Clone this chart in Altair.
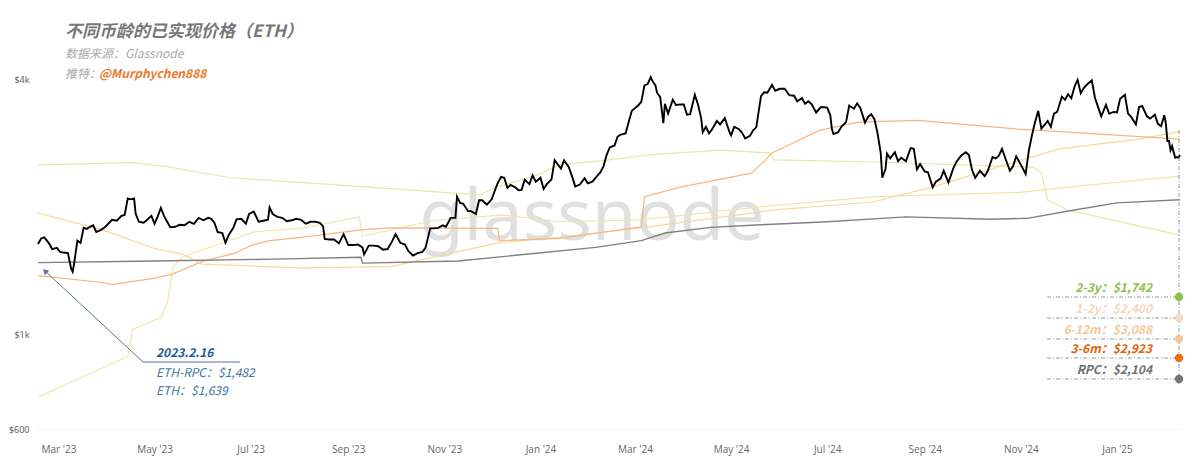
import pandas as pd
import altair as alt

# ETH price (USD)
eth_dates = [
    "2023-02-16", "2023-02-18", "2023-02-20", "2023-02-23", "2023-02-25", "2023-02-28",
    "2023-03-02", "2023-03-04", "2023-03-07", "2023-03-09", "2023-03-10", "2023-03-11", "2023-03-13", "2023-03-15", "2023-03-17", "2023-03-19", "2023-03-21", "2023-03-23", "2023-03-25", "2023-03-28", "2023-03-30",
    "2023-04-01", "2023-04-04", "2023-04-07", "2023-04-10", "2023-04-12", "2023-04-14", "2023-04-16", "2023-04-18", "2023-04-19", "2023-04-21", "2023-04-24", "2023-04-26", "2023-04-29",
    "2023-05-01", "2023-05-03", "2023-05-05", "2023-05-07", "2023-05-09", "2023-05-11", "2023-05-14", "2023-05-17", "2023-05-20", "2023-05-23", "2023-05-26", "2023-05-29",
    "2023-06-01", "2023-06-04", "2023-06-06", "2023-06-08", "2023-06-10", "2023-06-13", "2023-06-15", "2023-06-17", "2023-06-20", "2023-06-22", "2023-06-25", "2023-06-28", "2023-06-30",
    "2023-07-03", "2023-07-06", "2023-07-09", "2023-07-12", "2023-07-13", "2023-07-15", "2023-07-18", "2023-07-21", "2023-07-24", "2023-07-27", "2023-07-30",
    "2023-08-02", "2023-08-05", "2023-08-08", "2023-08-11", "2023-08-14", "2023-08-16", "2023-08-17", "2023-08-20", "2023-08-23", "2023-08-26", "2023-08-29",
    "2023-09-01", "2023-09-04", "2023-09-07", "2023-09-10", "2023-09-11", "2023-09-14", "2023-09-17", "2023-09-20", "2023-09-23", "2023-09-26", "2023-09-29",
    "2023-10-01", "2023-10-04", "2023-10-07", "2023-10-09", "2023-10-12", "2023-10-15", "2023-10-18", "2023-10-20", "2023-10-23", "2023-10-25", "2023-10-28", "2023-10-31",
    "2023-11-02", "2023-11-05", "2023-11-08", "2023-11-09", "2023-11-11", "2023-11-13", "2023-11-16", "2023-11-18", "2023-11-21", "2023-11-23", "2023-11-25", "2023-11-28",
    "2023-12-01", "2023-12-03", "2023-12-05", "2023-12-07", "2023-12-09", "2023-12-11", "2023-12-13", "2023-12-16", "2023-12-18", "2023-12-20", "2023-12-22", "2023-12-25", "2023-12-27", "2023-12-29",
    "2024-01-01", "2024-01-03", "2024-01-05", "2024-01-08", "2024-01-10", "2024-01-12", "2024-01-14", "2024-01-16", "2024-01-19", "2024-01-22", "2024-01-23", "2024-01-26", "2024-01-29", "2024-01-31",
    "2024-02-03", "2024-02-06", "2024-02-08", "2024-02-10", "2024-02-12", "2024-02-14", "2024-02-17", "2024-02-19", "2024-02-21", "2024-02-24", "2024-02-26", "2024-02-28",
    "2024-03-01", "2024-03-03", "2024-03-05", "2024-03-07", "2024-03-09", "2024-03-11", "2024-03-12", "2024-03-14", "2024-03-15", "2024-03-17", "2024-03-19", "2024-03-20", "2024-03-22", "2024-03-25", "2024-03-27", "2024-03-30",
    "2024-04-01", "2024-04-03", "2024-04-05", "2024-04-08", "2024-04-10", "2024-04-12", "2024-04-13", "2024-04-15", "2024-04-17", "2024-04-19", "2024-04-22", "2024-04-24", "2024-04-27", "2024-04-30",
    "2024-05-01", "2024-05-03", "2024-05-06", "2024-05-08", "2024-05-10", "2024-05-13", "2024-05-15", "2024-05-17", "2024-05-20", "2024-05-22", "2024-05-24", "2024-05-27", "2024-05-29",
    "2024-06-01", "2024-06-04", "2024-06-07", "2024-06-10", "2024-06-12", "2024-06-15", "2024-06-17", "2024-06-19", "2024-06-21", "2024-06-24", "2024-06-27",
    "2024-07-01", "2024-07-03", "2024-07-04", "2024-07-05", "2024-07-08", "2024-07-10", "2024-07-13", "2024-07-15", "2024-07-18", "2024-07-20", "2024-07-22", "2024-07-25", "2024-07-27", "2024-07-29", "2024-07-31",
    "2024-08-02", "2024-08-04", "2024-08-05", "2024-08-07", "2024-08-08", "2024-08-10", "2024-08-13", "2024-08-15", "2024-08-17", "2024-08-20", "2024-08-23", "2024-08-25", "2024-08-27", "2024-08-29",
    "2024-09-01", "2024-09-03", "2024-09-06", "2024-09-08", "2024-09-11", "2024-09-13", "2024-09-16", "2024-09-19", "2024-09-21", "2024-09-24", "2024-09-27", "2024-09-29",
    "2024-10-01", "2024-10-03", "2024-10-06", "2024-10-09", "2024-10-11", "2024-10-14", "2024-10-16", "2024-10-18", "2024-10-20", "2024-10-22", "2024-10-25", "2024-10-27", "2024-10-29",
    "2024-11-01", "2024-11-04", "2024-11-06", "2024-11-08", "2024-11-10", "2024-11-12", "2024-11-14", "2024-11-16", "2024-11-18", "2024-11-20", "2024-11-22", "2024-11-24", "2024-11-27", "2024-11-29",
    "2024-12-01", "2024-12-03", "2024-12-05", "2024-12-07", "2024-12-09", "2024-12-11", "2024-12-13", "2024-12-16", "2024-12-18", "2024-12-20", "2024-12-22", "2024-12-25", "2024-12-27", "2024-12-30",
    "2025-01-01", "2025-01-03", "2025-01-06", "2025-01-08", "2025-01-10", "2025-01-13", "2025-01-15", "2025-01-17", "2025-01-20", "2025-01-22", "2025-01-25", "2025-01-27", "2025-01-29", "2025-01-31",
    "2025-02-01", "2025-02-02", "2025-02-03", "2025-02-04", "2025-02-05", "2025-02-06", "2025-02-07", "2025-02-08", "2025-02-09", "2025-02-10",
]
eth_prices = [
    1639, 1690, 1700, 1645, 1595, 1605,
    1570, 1565, 1560, 1435, 1410, 1480, 1670, 1650, 1790, 1780, 1800, 1815, 1750, 1770, 1790,
    1820, 1870, 1860, 1910, 1920, 2100, 2090, 2100, 1935, 1850, 1840, 1865, 1910,
    1830, 1905, 1995, 1910, 1850, 1795, 1800, 1820, 1815, 1850, 1830, 1890,
    1865, 1890, 1880, 1840, 1750, 1740, 1650, 1720, 1790, 1875, 1880, 1830, 1930,
    1955, 1850, 1860, 1870, 2000, 1930, 1900, 1890, 1855, 1865, 1880,
    1870, 1830, 1850, 1850, 1840, 1805, 1685, 1680, 1680, 1645, 1730,
    1630, 1630, 1635, 1610, 1550, 1625, 1625, 1620, 1590, 1595, 1670,
    1730, 1650, 1635, 1580, 1540, 1560, 1570, 1605, 1785, 1785, 1790, 1815,
    1800, 1890, 1890, 2120, 2050, 2040, 1960, 1960, 1930, 2080, 2080, 2030,
    2090, 2190, 2290, 2360, 2350, 2225, 2260, 2230, 2195, 2200, 2325, 2270, 2380, 2300,
    2350, 2210, 2270, 2330, 2585, 2525, 2470, 2585, 2490, 2310, 2240, 2265, 2345, 2280,
    2300, 2375, 2420, 2500, 2660, 2770, 2800, 2940, 2970, 2990, 3180, 3380,
    3430, 3480, 3550, 3880, 3910, 4060, 3980, 3880, 3730, 3640, 3160, 3510, 3330, 3590, 3490, 3500,
    3500, 3310, 3320, 3690, 3500, 3250, 3010, 3100, 2990, 3060, 3200, 3140, 3250, 3010,
    2960, 3100, 3060, 3000, 2910, 2950, 3040, 3090, 3660, 3740, 3730, 3890, 3770,
    3810, 3810, 3680, 3670, 3560, 3620, 3510, 3560, 3510, 3350, 3450,
    3440, 3300, 3060, 2980, 3010, 3100, 3180, 3480, 3420, 3520, 3440, 3170, 3270, 3320, 3230,
    2990, 2690, 2350, 2460, 2680, 2610, 2700, 2570, 2620, 2570, 2760, 2750, 2460, 2530,
    2430, 2420, 2230, 2300, 2340, 2440, 2290, 2470, 2560, 2650, 2700, 2660,
    2450, 2350, 2440, 2370, 2440, 2630, 2610, 2650, 2750, 2620, 2440, 2500, 2640,
    2520, 2400, 2720, 2960, 3180, 3380, 3070, 3130, 3200, 3100, 3330, 3360, 3650, 3590,
    3700, 3620, 3850, 4000, 3720, 3830, 3900, 3990, 3630, 3450, 3280, 3490, 3330, 3360,
    3350, 3610, 3690, 3330, 3270, 3140, 3450, 3470, 3280, 3240, 3310, 3150, 3110, 3300,
    3160, 2870, 2870, 2730, 2790, 2700, 2620, 2630, 2620, 2660,
]

# realized price of the whole supply (RPC)
rpc_dates = ["2023-02-16", "2023-05-01", "2023-07-15", "2023-09-09", "2023-09-10", "2023-11-10",
             "2023-12-26", "2024-02-05", "2024-03-05", "2024-03-20", "2024-04-18", "2024-05-20",
             "2024-07-01", "2024-08-20", "2024-10-13", "2024-11-05", "2024-12-04", "2025-01-01",
             "2025-02-10"]
rpc_values = [1482, 1495, 1510, 1525, 1478, 1495,
              1555, 1610, 1670, 1740, 1795, 1820,
              1850, 1900, 1875, 1885, 1970, 2050,
              2085]

# realized price by coin age band
m3_6_dates = ["2023-02-16", "2023-03-29", "2023-04-04", "2023-04-30", "2023-05-12", "2023-05-31",
              "2023-06-21", "2023-07-02", "2023-07-13", "2023-08-02", "2023-09-09", "2023-09-28",
              "2023-12-05", "2023-12-06", "2024-01-13", "2024-03-05", "2024-03-07", "2024-03-29",
              "2024-05-14", "2024-05-23", "2024-05-27", "2024-06-26", "2024-07-21", "2024-08-28",
              "2024-10-31", "2025-02-10"]
m3_6_values = [1380, 1330, 1315, 1360, 1390, 1490,
               1560, 1630, 1670, 1700, 1770, 1790,
               1785, 1670, 1690, 1800, 2120, 2230,
               2410, 2590, 2690, 3040, 3180, 3210,
               3060, 2900]

m6_12_dates = ["2023-02-16", "2023-03-29", "2023-05-01", "2023-05-19", "2023-05-31", "2023-08-02",
               "2023-09-28", "2023-12-05", "2024-01-13", "2024-03-05", "2024-05-27", "2024-07-30",
               "2024-09-05", "2024-11-25", "2025-01-15", "2025-02-10"]
m6_12_values = [1940, 1770, 1600, 1550, 1470, 1440,
                1450, 1650, 1700, 1790, 1970, 2060,
                2230, 2750, 2900, 3020]

y1_2_dates = ["2023-02-16", "2023-04-14", "2023-04-17", "2023-05-05", "2023-05-09", "2023-05-13",
              "2023-05-19", "2023-07-03", "2023-08-04", "2023-09-08", "2023-09-10", "2023-10-24",
              "2023-12-08", "2024-01-13", "2024-03-05", "2024-05-27", "2024-08-01", "2024-10-31",
              "2024-12-15", "2025-02-10"]
y1_2_values = [714, 890, 1030, 1100, 1190, 1450,
               1530, 1750, 1790, 1900, 1710, 1860,
               1920, 1850, 1870, 2020, 2120, 2170,
               2260, 2370]

y2_3_dates = ["2023-02-16", "2023-04-17", "2023-05-08", "2023-06-18", "2023-08-11", "2023-11-23",
              "2023-12-04", "2024-01-01", "2024-01-13", "2024-02-09", "2024-03-10", "2024-04-24",
              "2024-05-26", "2024-05-28", "2024-07-30", "2024-11-09", "2024-11-14", "2024-11-18",
              "2024-12-01", "2025-02-10"]
y2_3_values = [2520, 2550, 2500, 2350, 2280, 2140,
               2230, 2400, 2520, 2580, 2660, 2730,
               2690, 2590, 2560, 2490, 2410, 2080,
               1970, 1720]

bands = ["2-3y", "1-2y", "6-12m", "3-6m"]
band_line_colors = ["#e4e8a8", "#f1e6a8", "#f5d99a", "#f4b680"]

FONT = "Noto Sans CJK SC"

eth = pd.DataFrame({"date": pd.to_datetime(eth_dates), "value": eth_prices})
assert len(eth_dates) == len(eth_prices)
rpc = pd.DataFrame({"date": pd.to_datetime(rpc_dates), "value": rpc_values})
band_frames = []
for name, d, v in [("2-3y", y2_3_dates, y2_3_values), ("1-2y", y1_2_dates, y1_2_values),
                   ("6-12m", m6_12_dates, m6_12_values), ("3-6m", m3_6_dates, m3_6_values)]:
    band_frames.append(pd.DataFrame({"date": pd.to_datetime(d), "value": v, "band": name}))
band_df = pd.concat(band_frames, ignore_index=True)

one = pd.DataFrame({"a": [0]})

# shared scales / axes
month_ticks = [alt.DateTime(year=y, month=m, date=1)
               for y, m in [(2023, 3), (2023, 5), (2023, 7), (2023, 9), (2023, 11), (2024, 1),
                            (2024, 3), (2024, 5), (2024, 7), (2024, 9), (2024, 11), (2025, 1)]]
x_enc = alt.X(
    "date:T",
    scale=alt.Scale(domain=[alt.DateTime(year=2023, month=2, date=16),
                            alt.DateTime(year=2025, month=2, date=10)]),
    axis=alt.Axis(values=month_ticks, format="%b '%y", title=None, grid=False, ticks=False,
                  tickSize=0, labelPadding=15, labelFontSize=10, labelColor="#666",
                  labelFont="Open Sans", domainColor="#eeeeee", domainDash=[2, 2]),
)
y_enc = alt.Y(
    "value:Q",
    scale=alt.Scale(type="log", domain=[600, 4220]),
    axis=alt.Axis(values=[600, 1000, 4000], title=None, grid=False, ticks=False, tickSize=0,
                  domain=False, labelPadding=9, labelFontSize=9, labelColor="#555",
                  labelFont="Open Sans",
                  labelExpr="datum.value >= 1000 ? '$' + datum.value / 1000 + 'k' : '$' + datum.value"),
)

watermark = alt.Chart(one).mark_text(
    text="glassnode", font="Noto Sans", fontSize=72, color="#e0e0e0", align="center",
    baseline="alphabetic",
).encode(x=alt.value(554), y=alt.value(170))

band_lines = alt.Chart(band_df).mark_line(strokeWidth=1.2).encode(
    x=x_enc, y=y_enc,
    color=alt.Color("band:N", scale=alt.Scale(domain=bands, range=band_line_colors), legend=None),
)
rpc_line = alt.Chart(rpc).mark_line(strokeWidth=1.4, color="#808080").encode(x=x_enc, y=y_enc)
eth_line = alt.Chart(eth).mark_line(strokeWidth=1.9, color="#000000").encode(x=x_enc, y=y_enc)


def note(text, x, y, color, size=12, bold=False, italic=True, align="left"):
    return alt.Chart(one).mark_text(
        text=text, align=align, baseline="alphabetic", font=FONT, fontSize=size,
        fontWeight="bold" if bold else "normal", fontStyle="italic" if italic else "normal",
        color=color,
    ).encode(x=alt.value(x), y=alt.value(y))


def rule(x, y, x2, y2, color, width=1.0, dash=None):
    kw = {"color": color, "strokeWidth": width}
    if dash:
        kw["strokeDash"] = dash
    return alt.Chart(one).mark_rule(**kw).encode(
        x=alt.value(x), y=alt.value(y), x2=alt.value(x2), y2=alt.value(y2))


def dot(x, y, color):
    return alt.Chart(one).mark_circle(size=70, color=color, opacity=1).encode(
        x=alt.value(x), y=alt.value(y))


header = [
    note("不同币龄的已实现价格（ETH）", 27, -33, "#777777", size=17, bold=True),
    note("数据来源：Glassnode", 27, -12, "#aaaaaa", size=12),
    note("推特：", 27, 8, "#aaaaaa", size=12),
    note("@Murphychen888", 61, 8, "#ec7a2a", size=12, bold=True),
]

# callout for the first day
callout = [
    rule(6, 200, 105, 292, "#5b7394"),
    rule(105, 292, 202, 292, "#5b7394"),
    alt.Chart(one).mark_point(shape="triangle-up", filled=True, size=40, angle=313,
                              color="#5b7394", opacity=1).encode(x=alt.value(7), y=alt.value(201)),
    note("2023.2.16", 118, 287, "#1d5d96", bold=True),
    note("ETH-RPC：$1,482", 118, 307, "#3f74a3"),
    note("ETH：$1,639", 118, 325, "#3f74a3"),
]

# latest values, right side
end_labels = ["2-3y：$1,742", "1-2y：$2,400", "6-12m：$3,088", "3-6m：$2,923", "RPC：$2,104"]
end_text_colors = ["#8dc04b", "#f2d8c4", "#f4c79c", "#e0650c", "#707070"]
end_dot_colors = ["#8bc34a", "#f7d9c4", "#f5c69b", "#e8710f", "#757575"]
row_y = [227, 248, 269, 288, 309]
legend_side = [rule(1141, 60, 1141, 314, "#999999", dash=[4, 2, 1, 2])]
for lab, tc, dc, ry in zip(end_labels, end_text_colors, end_dot_colors, row_y):
    legend_side.append(rule(1009, ry, 1141, ry, "#9a9a9a", dash=[4, 2, 1, 2]))
    legend_side.append(note(lab, 1114, ry - 5, tc, bold=True, align="right"))
    legend_side.append(dot(1141, ry, dc))

chart = alt.layer(
    watermark, band_lines, rpc_line, eth_line, *header, *callout, *legend_side
).properties(
    width=1142, height=359,
    autosize=alt.AutoSizeParams(type="none"),
    padding={"left": 30, "top": 62, "right": 12, "bottom": 40},
    background="white",
).configure_view(stroke=None)

chart.save("out.html", embed_options={"renderer": "svg", "actions": False})
